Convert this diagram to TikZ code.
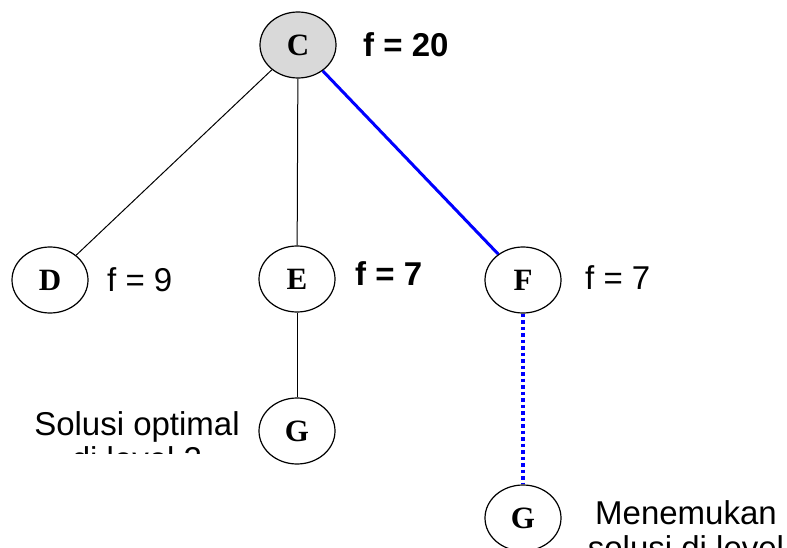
\documentclass[tikz,border=0pt]{standalone}
\usepackage{fontspec}
\setmainfont{Liberation Serif}
\setsansfont{Liberation Sans}
\usepackage{tikz}
\usetikzlibrary{arrows.meta,positioning,shapes.geometric}
\usepackage{xcolor}

\begin{document}
\begin{tikzpicture}[x=1pt, y=-1pt,
        simpul/.style={draw, ellipse, line width=1.2pt, minimum width=76pt, minimum height=66pt, inner sep=0pt, font=\fontsize{31}{33}\selectfont\bfseries},
        nilai/.style={anchor=west, inner sep=0pt, font=\sffamily\fontsize{33}{35}\selectfont},
        keterangan/.style={anchor=north, inner sep=0pt, align=center, font=\sffamily\fontsize{33}{35}\selectfont},
        garis/.style={line width=1pt},
        jalur/.style={draw=blue, line width=3pt},
        jalurtitik/.style={draw=blue, line width=4pt, dash pattern=on 3.5pt off 3pt}
    ]
        \useasboundingbox (0,0) rectangle (787,548);

        % Akar
        \node[simpul, fill=gray!30] (c) at (298,45) {C};
        \node[nilai, font=\sffamily\bfseries\fontsize{33}{35}\selectfont] (fc) at (363,45) {f = 20};

        % Level 1
        \node[simpul] (d) at (50,280) {D};
        \node[simpul] (e) at (297,279) {E};
        \node[simpul] (f) at (523,280) {F};
        \node[nilai] (fd) at (107,280) {f = 9};
        \node[nilai, font=\sffamily\bfseries\fontsize{33}{35}\selectfont] (fe) at (355,274) {f = 7};
        \node[nilai] (ff) at (585,278) {f = 7};

        % Level 2
        \node[simpul] (g1) at (297,431) {G};
        \node[simpul] (g2) at (523,518) {G};

        % Keterangan
        \begin{scope}
            \clip (0,380) rectangle (255,453);
            \node[keterangan] (ket1) at (137,411) {Solusi optimal\\di level 2};
        \end{scope}
        \node[keterangan] (ket2) at (686,500) {Menemukan\\solusi di level};

        % Sisi
        \draw[garis] (c) -- (d);
        \draw[garis] (c) -- (e);
        \draw[garis] (e) -- (g1);
        \draw[jalur] (c) -- (f);
        \draw[jalurtitik] (f) -- (g2);
    \end{tikzpicture}
\end{document}
